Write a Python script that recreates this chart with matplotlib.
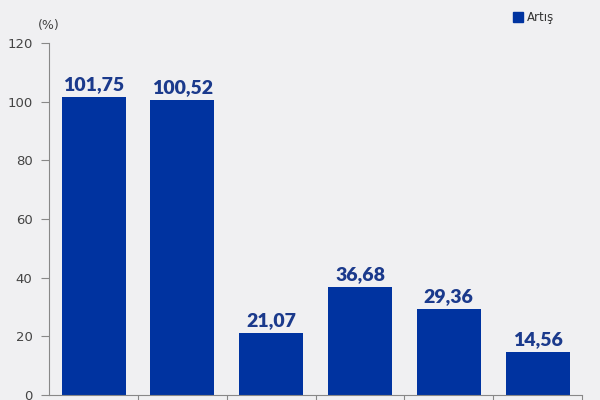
import numpy as np
import matplotlib.pyplot as plt

values = [101.75, 100.52, 21.07, 36.68, 29.36, 14.56]
labels = ["101,75", "100,52", "21,07", "36,68", "29,36", "14,56"]
yticks = [0, 20, 40, 60, 80, 100, 120]

bg = '#f0f0f2'
blue = '#0033a0'

fig = plt.figure(figsize=(6, 4), dpi=100, facecolor=bg)
ax = fig.add_axes([0.082, 0.0125, 0.888, 0.88])
ax.set_facecolor(bg)

x = np.arange(len(values))
ax.bar(x, values, width=0.72, color=blue, zorder=2)
for xi, v, t in zip(x, values, labels):
    ax.text(xi, v + 1.3, t, ha='center', va='bottom', fontsize=14,
            fontweight='heavy', color='#1b3a8c', family='Lato')

ax.set_xlim(-0.5, len(values) - 0.5)
ax.set_ylim(0, 120)
ax.set_yticks(yticks)
ax.set_yticklabels([str(t) for t in yticks], fontsize=9.5, color='#444444')
ax.set_xticks(np.arange(0.5, len(values), 1.0))
ax.set_xticklabels([])
ax.tick_params(axis='y', length=6, color='#888888', pad=6)
ax.tick_params(axis='x', length=5, color='#888888', direction='out')

for s in ['top', 'right']:
    ax.spines[s].set_visible(False)
for s in ['left', 'bottom']:
    ax.spines[s].set_color('#888888')
    ax.spines[s].set_linewidth(0.8)

fig.text(0.082, 0.935, "(%)", ha='center', va='center', fontsize=9, color='#444444')

# legend
fig.patches.append(plt.Rectangle((0.855, 0.945), 0.017, 0.025, color=blue,
                                 transform=fig.transFigure, figure=fig))
fig.text(0.878, 0.957, "Artış", ha='left', va='center', fontsize=8.5, color='#333333')

fig.savefig('out.png', dpi=100, facecolor=bg)
